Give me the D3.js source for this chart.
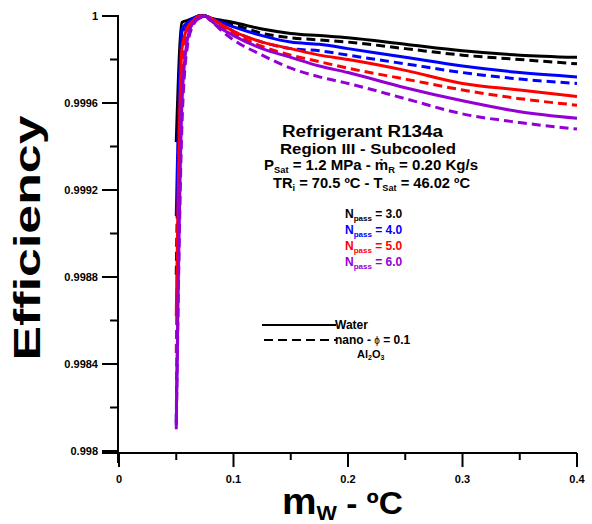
<!DOCTYPE html>
<html><head><meta charset="utf-8">
<script src="https://cdn.jsdelivr.net/npm/d3@7"></script>
<style>
body{margin:0;background:#fff;}
svg{display:block;font-family:"Liberation Sans",Arial,sans-serif;font-weight:bold;}
</style></head><body>
<svg id="c" width="592" height="524"></svg>
<script>
const xs = [0.05,0.055,0.06,0.065,0.07,0.075,0.08,0.09,0.1,0.125,0.15,0.175,0.2,0.25,0.3,0.35,0.4];
const water3 = [0.99942,0.99997,0.99998,0.99999,1.0,1.0,0.99999,0.99998,0.99997,0.99994,0.99992,0.99991,0.99990,0.99987,0.99984,0.99982,0.99981];
const nano3  = [0.99881,0.99993,0.99997,0.99999,1.0,1.0,0.99999,0.99997,0.99996,0.99992,0.99990,0.99989,0.99988,0.99985,0.99982,0.99980,0.99978];
const water4 = [0.99908,0.99994,0.99997,0.99999,1.0,1.0,0.99999,0.99997,0.99995,0.99991,0.99988,0.99987,0.99985,0.99981,0.99977,0.99974,0.99972];
const nano4  = [0.99813,0.99988,0.99996,0.99998,1.0,1.0,0.99999,0.99996,0.99993,0.99988,0.99985,0.99984,0.99982,0.99978,0.99974,0.99971,0.99969];
const water5 = [0.99862,0.99985,0.99995,0.99998,1.0,1.0,0.99999,0.99996,0.99993,0.99988,0.99985,0.99982,0.99980,0.99975,0.99969,0.99966,0.99963];
const nano5  = [0.99845,0.99978,0.99993,0.99998,0.99999,1.0,0.99998,0.99995,0.99992,0.99986,0.99982,0.99979,0.99976,0.99971,0.99966,0.99962,0.99959];
const water6 = [0.99812,0.99960,0.99990,0.99997,0.99999,1.0,0.99998,0.99994,0.99991,0.99985,0.99981,0.99977,0.99974,0.99967,0.99961,0.99956,0.99953];
const nano6  = [0.99810,0.99950,0.99987,0.99996,0.99999,1.0,0.99998,0.99993,0.99989,0.99982,0.99976,0.99972,0.99969,0.99962,0.99955,0.99951,0.99948];
const npassLabels = ["3.0","4.0","5.0","6.0"];
const colors = ["#000000","#0000ff","#ff0000","#9400d3"];
const xTicks = [0,0.1,0.2,0.3,0.4];
const xMinor = [0.05,0.15,0.25,0.35];
const yTicks = [0.998,0.9984,0.9988,0.9992,0.9996,1];
const yMinor = [0.9982,0.9986,0.999,0.9994,0.9998];

const series = [
  {v:water3,c:0,dash:false},{v:nano3,c:0,dash:true},
  {v:water4,c:1,dash:false},{v:nano4,c:1,dash:true},
  {v:water5,c:2,dash:false},{v:nano5,c:2,dash:true},
  {v:water6,c:3,dash:false},{v:nano6,c:3,dash:true}
];

const svg = d3.select("#c");
const x = d3.scaleLinear().domain([0,0.4]).range([119,577]);
const y = d3.scaleLinear().domain([0.998,1]).range([451,16]);

// axes
const xa = svg.append("g").attr("transform","translate(0,453)");
xa.append("line").attr("x1",102).attr("x2",x(0.4)).attr("stroke","#000").attr("stroke-width",2);
xa.selectAll(".mj").data(xTicks).join("line").attr("x1",d=>x(d)).attr("x2",d=>x(d)).attr("y1",0).attr("y2",14).attr("stroke","#000").attr("stroke-width",2);
xa.selectAll(".mn").data(xMinor).join("line").attr("x1",d=>x(d)).attr("x2",d=>x(d)).attr("y1",0).attr("y2",7).attr("stroke","#000").attr("stroke-width",2);
xa.selectAll("text").data(xTicks).join("text").attr("x",d=>x(d)).attr("y",30).attr("text-anchor","middle").attr("font-size",11).text(d=>d===0?"0":d3.format(".1f")(d));

const ya = svg.append("g").attr("transform","translate(118,0)");
ya.append("line").attr("y1",y(1)-1).attr("y2",463).attr("stroke","#000").attr("stroke-width",2);
ya.selectAll(".mj").data(yTicks).join("line").attr("y1",d=>y(d)).attr("y2",d=>y(d)).attr("x1",0).attr("x2",-16).attr("stroke","#000").attr("stroke-width",2);
ya.selectAll(".mn").data(yMinor).join("line").attr("y1",d=>y(d)).attr("y2",d=>y(d)).attr("x1",0).attr("x2",-8).attr("stroke","#000").attr("stroke-width",2);
ya.selectAll("text").data(yTicks).join("text").attr("x",-20).attr("y",d=>y(d)+4).attr("text-anchor","end").attr("font-size",11).text(d=>d===1?"1":String(d));

// axis titles
const xt = svg.append("text").attr("x",282).attr("y",514).attr("font-size",31)
  .attr("textLength",121).attr("lengthAdjust","spacingAndGlyphs");
xt.append("tspan").attr("font-size",36).text("m");
xt.append("tspan").attr("font-size",20).attr("dy",6).text("W");
xt.append("tspan").attr("dy",-6).text(" - ºC");

svg.append("text").attr("transform","translate(40,238) rotate(-90)").attr("text-anchor","middle")
  .attr("font-size",37).attr("textLength",245).attr("lengthAdjust","spacingAndGlyphs").text("Efficiency");

// lines
const line = d3.line().x((d,i)=>x(xs[i])).y(d=>y(d)).curve(d3.curveMonotoneX);
svg.append("g").selectAll("path").data(series).join("path")
  .attr("d",d=>line(d.v)).attr("fill","none").attr("stroke",d=>colors[d.c]).attr("stroke-width",3)
  .attr("stroke-dasharray",d=>d.dash?"9,5":null);

// annotations
svg.append("text").attr("x",282).attr("y",137).attr("font-size",16)
  .attr("textLength",161).attr("lengthAdjust","spacingAndGlyphs").text("Refrigerant R134a");
svg.append("text").attr("x",280).attr("y",154).attr("font-size",15)
  .attr("textLength",176).attr("lengthAdjust","spacingAndGlyphs").text("Region III - Subcooled");
const t3 = svg.append("text").attr("x",264).attr("y",170).attr("font-size",14.5)
  .attr("textLength",214).attr("lengthAdjust","spacingAndGlyphs");
t3.append("tspan").text("P");
t3.append("tspan").attr("font-size",9).attr("dy",3).text("Sat");
t3.append("tspan").attr("dy",-3).text(" = 1.2 MPa  - ṁ");
t3.append("tspan").attr("font-size",9).attr("dy",3).text("R");
t3.append("tspan").attr("dy",-3).text(" = 0.20 Kg/s");
const t4 = svg.append("text").attr("x",273).attr("y",188).attr("font-size",14.5)
  .attr("textLength",197).attr("lengthAdjust","spacingAndGlyphs");
t4.append("tspan").text("TR");
t4.append("tspan").attr("font-size",9).attr("dy",3).text("i");
t4.append("tspan").attr("dy",-3).text(" = 70.5 ºC - T");
t4.append("tspan").attr("font-size",9).attr("dy",3).text("Sat");
t4.append("tspan").attr("dy",-3).text(" = 46.02 ºC");

const nl = svg.append("g").selectAll("text").data(npassLabels).join("text")
  .attr("x",345).attr("y",(d,i)=>218+i*16).attr("font-size",12).attr("fill",(d,i)=>colors[i]);
nl.append("tspan").text("N");
nl.append("tspan").attr("font-size",8).attr("dy",3).text("pass");
nl.append("tspan").attr("dy",-3).text(d=>" = "+d);

// legend
svg.append("line").attr("x1",262).attr("x2",336).attr("y1",325).attr("y2",325).attr("stroke","#000").attr("stroke-width",2);
svg.append("line").attr("x1",264).attr("x2",336).attr("y1",340).attr("y2",340).attr("stroke","#000").attr("stroke-width",2).attr("stroke-dasharray","9,5");
svg.append("text").attr("x",335).attr("y",329).attr("font-size",12).text("Water");
const lg = svg.append("text").attr("x",335).attr("y",344).attr("font-size",12);
lg.append("tspan").text("nano - ");
lg.append("tspan").attr("font-size",10).attr("font-weight","normal").text("ϕ");
lg.append("tspan").text(" = 0.1");
const al = svg.append("text").attr("x",357).attr("y",358).attr("font-size",11);
al.append("tspan").text("Al");
al.append("tspan").attr("font-size",7).attr("dy",2).text("2");
al.append("tspan").attr("dy",-2).text("O");
al.append("tspan").attr("font-size",7).attr("dy",2).text("3");
</script></body></html>
